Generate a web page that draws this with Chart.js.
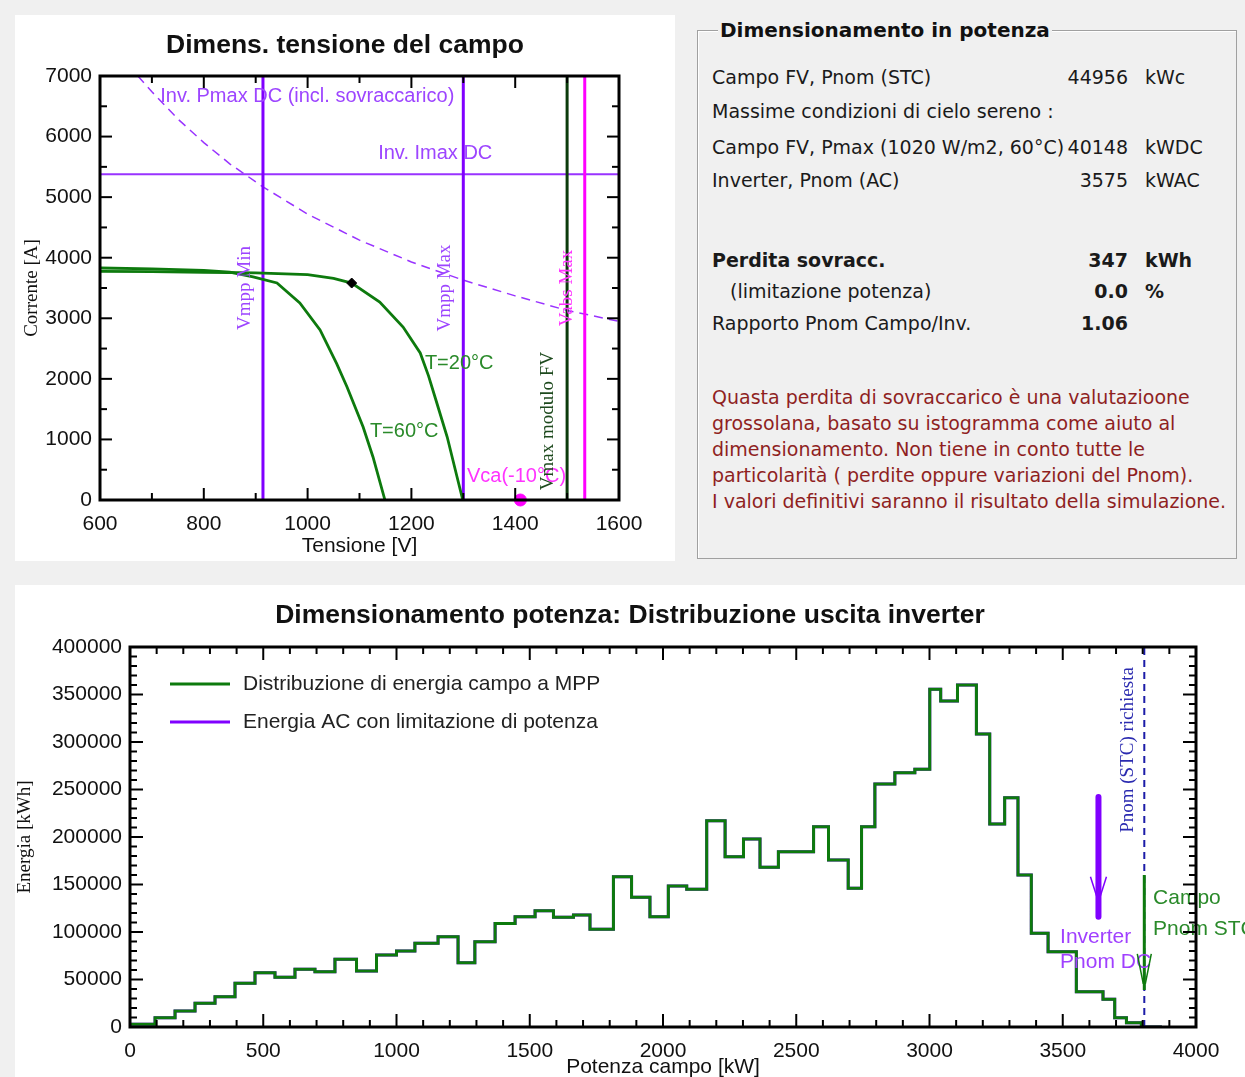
<!DOCTYPE html>
<html>
<head>
<meta charset="utf-8">
<script src="https://cdn.jsdelivr.net/npm/chart.js@4.4.1/dist/chart.umd.min.js"></script>
<style>
html,body{margin:0;padding:0;background:#f0f0f0;width:1245px;height:1077px;overflow:hidden;}
.panel{position:absolute;background:#fff;}
#p1{left:15px;top:15px;width:660px;height:546px;}
#p2{left:15px;top:585px;width:1230px;height:492px;}
#box{position:absolute;left:697px;top:30px;width:540px;height:529px;border:1px solid #a0a0a0;box-shadow:inset 1px 1px 0 #fff;box-sizing:border-box;}
.t{position:absolute;font-family:"DejaVu Sans",sans-serif;font-size:19px;line-height:22px;color:#1a1a1a;white-space:nowrap;}
.b{font-weight:bold;}
.r{text-align:right;}
.red{color:#8f1f1f;}
#boxTitle{position:absolute;left:718px;top:19px;padding:0 2px;background:#f0f0f0;font-family:"DejaVu Sans",sans-serif;font-weight:bold;font-size:20px;line-height:22px;color:#111;white-space:nowrap;}
</style>
</head>
<body>
<div class="panel" id="p1"><canvas id="c1" width="660" height="546"></canvas></div>
<div class="panel" id="p2"><canvas id="c2" width="1230" height="492"></canvas></div>

<div id="box"></div>
<div id="boxTitle">Dimensionamento in potenza</div>
<div class="t" style="left:712px;top:66px;">Campo FV, Pnom (STC)</div>
<div class="t r" style="right:117px;top:66px;">44956</div>
<div class="t" style="left:1145px;top:66px;">kWc</div>
<div class="t" style="left:712px;top:100px;">Massime condizioni di cielo sereno :</div>
<div class="t" style="left:712px;top:136px;">Campo FV, Pmax (1020 W/m2, 60°C)</div>
<div class="t r" style="right:117px;top:136px;">40148</div>
<div class="t" style="left:1145px;top:136px;">kWDC</div>
<div class="t" style="left:712px;top:169px;">Inverter, Pnom (AC)</div>
<div class="t r" style="right:117px;top:169px;">3575</div>
<div class="t" style="left:1145px;top:169px;">kWAC</div>
<div class="t b" style="left:712px;top:249px;">Perdita sovracc.</div>
<div class="t b r" style="right:117px;top:249px;">347</div>
<div class="t b" style="left:1145px;top:249px;">kWh</div>
<div class="t" style="left:730px;top:280px;">(limitazione potenza)</div>
<div class="t b r" style="right:117px;top:280px;">0.0</div>
<div class="t b" style="left:1145px;top:280px;">%</div>
<div class="t" style="left:712px;top:312px;">Rapporto Pnom Campo/Inv.</div>
<div class="t b r" style="right:117px;top:312px;">1.06</div>
<div class="t red" style="left:712px;top:386px;">Quasta perdita di sovraccarico è una valutazioone</div>
<div class="t red" style="left:712px;top:412px;">grossolana, basato su istogramma come aiuto al</div>
<div class="t red" style="left:712px;top:438px;">dimensionamento. Non tiene in conto tutte le</div>
<div class="t red" style="left:712px;top:464px;">particolarità ( perdite oppure variazioni del Pnom).</div>
<div class="t red" style="left:712px;top:490px;">I valori definitivi saranno il risultato della simulazione.</div>

<script>
// ================= Top chart: array voltage sizing (I-V) =================
const iv20_V = [600, 700, 800, 900, 1000, 1050, 1085, 1139, 1184, 1217, 1233, 1249, 1269, 1288, 1299];
const iv20_A = [3775, 3770, 3760, 3750, 3720, 3660, 3582, 3269, 2856, 2427, 2050, 1601, 1040, 380, 0];
const iv60_V = [600, 700, 800, 850, 895, 941, 985, 1024, 1056, 1076, 1107, 1126, 1149];
const iv60_A = [3830, 3815, 3790, 3760, 3682, 3583, 3252, 2807, 2250, 1866, 1205, 710, 0];
const pmaxDc_V = [673, 700, 750, 800, 850, 914, 1000, 1100, 1200, 1300, 1400, 1500, 1600];
const pmaxDc_A = [7000, 6740, 6290, 5900, 5550, 5170, 4720, 4290, 3930, 3630, 3370, 3130, 2950];
const vmppMinV = 914;
const vmppMaxV = 1300;
const vmaxModuleV = 1500;
const vabsMaxV = 1534;
const imaxDcA = 5380;
const vocMinus10V = 1410;
const mppV = 1085, mppA = 3582;

// ================= Bottom chart: power distribution histogram =================
const binEdgesKW = [0, 94, 169, 244, 319, 394, 469, 544, 619, 694, 769, 850, 925, 1000, 1069, 1156, 1231, 1294, 1370, 1445,
  1520, 1589, 1664, 1726, 1814, 1882, 1951, 2020, 2089, 2164, 2233, 2302, 2364, 2433, 2565, 2621, 2695, 2745, 2795, 2870,
  2945, 3001, 3042, 3105, 3176, 3226, 3282, 3332, 3382, 3445, 3551, 3651, 3695, 3739, 3795, 3872];
const fieldEnergyKWh = [3000, 9800, 16800, 24900, 31900, 46000, 57200, 52300, 60700, 58200, 71200, 58900, 75800, 80000, 88100, 95000, 67700, 89800, 109000, 116000,
  122500, 115500, 118000, 102800, 158200, 136500, 116000, 148400, 145000, 217200, 179300, 197900, 168100, 184600, 210900, 175800, 146000, 210900, 255800, 267700,
  271200, 355500, 343200, 360000, 308400, 213700, 241400, 160000, 98600, 79300, 37200, 29200, 9800, 4500, 0];
const acEnergyKWh = [3000, 9800, 16800, 24900, 31900, 46000, 57200, 52300, 60700, 58200, 71200, 58900, 75800, 80000, 88100, 95000, 67700, 89800, 109000, 116000,
  122500, 115500, 118000, 102800, 158200, 136500, 116000, 148400, 145000, 217200, 179300, 197900, 168100, 184600, 210900, 175800, 146000, 210900, 255800, 267700,
  271200, 355500, 343200, 360000, 308400, 213700, 241400, 160000, 98600, 79300, 37200, 29200, 9800, 4500, 0];
const pnomStcKW = 3806;
const invPnomDcKW = 3634;
const invArrowKWh = [242000, 116000];
const fieldArrowKWh = [160000, 39000];
const legendLabels = ['Distribuzione di energia campo a MPP', 'Energia AC con limitazione di potenza'];

Chart.defaults.font.family = '"Liberation Sans", Arial, sans-serif';
Chart.defaults.color = '#111';

const zip = (xs, ys) => xs.map((x, i) => ({x, y: ys[i]}));
const vline = (x, y0, y1) => [{x, y: y0}, {x, y: y1}];
const plainNum = v => String(v);

// frame + inward tick marks drawn from the chart's own scales
const frameTicks = {
  id: 'frameTicks',
  afterDraw(chart, args, o) {
    const {ctx, chartArea: a} = chart;
    const sx = chart.scales.x, sy = chart.scales.y;
    ctx.save();
    ctx.strokeStyle = '#000';
    ctx.lineWidth = 2;
    const line = (x1, y1, x2, y2) => { ctx.beginPath(); ctx.moveTo(x1, y1); ctx.lineTo(x2, y2); ctx.stroke(); };
    const isMajor = (v, m) => Math.abs(v / m - Math.round(v / m)) < 1e-6;
    for (let v = sx.min; v <= sx.max + 1e-6; v += o.xMinor) {
      const p = sx.getPixelForValue(v);
      const L = isMajor(v, o.xMajor) ? o.majorLen : o.minorLen;
      line(p, a.bottom, p, a.bottom - L);
      line(p, a.top, p, a.top + L);
    }
    for (let v = sy.min; v <= sy.max + 1e-6; v += o.yMinor) {
      const p = sy.getPixelForValue(v);
      const L = isMajor(v, o.yMajor) ? o.majorLen : o.minorLen;
      line(a.left, p, a.left + L, p);
      line(a.right, p, a.right - L, p);
    }
    ctx.lineWidth = o.frameWidth;
    ctx.strokeRect(a.left, a.top, a.right - a.left, a.bottom - a.top);
    ctx.restore();
  }
};

// chart title (centred on the canvas) and text labels positioned with the chart's scales
const annots = {
  id: 'annots',
  afterDatasetsDraw(chart, args, o) {
    const {ctx} = chart;
    const sx = chart.scales.x, sy = chart.scales.y;
    ctx.save();
    if (o.title) {
      ctx.fillStyle = '#111';
      ctx.font = 'bold 26.5px "Liberation Sans"';
      ctx.textAlign = 'center';
      ctx.textBaseline = 'middle';
      ctx.fillText(o.title, chart.width / 2, 31);
    }
    (o.items || []).forEach(it => {
      const px = sx.getPixelForValue(it.x), py = sy.getPixelForValue(it.y);
      ctx.fillStyle = it.color;
      ctx.font = it.font;
      ctx.textBaseline = 'middle';
      if (it.rotate) {
        ctx.save();
        ctx.translate(px, py);
        ctx.rotate(-Math.PI / 2);
        ctx.textAlign = 'center';
        ctx.fillText(it.text, 0, 0);
        ctx.restore();
      } else {
        ctx.textAlign = it.align || 'left';
        ctx.fillText(it.text, px, py);
      }
    });
    (o.arrows || []).forEach(ar => {
      const px = sx.getPixelForValue(ar.x), py = sy.getPixelForValue(ar.tip);
      ctx.strokeStyle = ar.color;
      ctx.lineWidth = 1.5;
      ctx.beginPath();
      ctx.moveTo(px - ar.w, py - ar.h); ctx.lineTo(px - 1, py - ar.h2);
      ctx.moveTo(px + ar.w, py - ar.h); ctx.lineTo(px + 1, py - ar.h2);
      ctx.stroke();
    });
    if (o.legend) {
      const a = chart.chartArea;
      o.legend.forEach((lg, i) => {
        const yy = a.top + 37 + i * 38;
        ctx.strokeStyle = lg.color; ctx.lineWidth = 3;
        ctx.beginPath(); ctx.moveTo(a.left + 40, yy); ctx.lineTo(a.left + 100, yy); ctx.stroke();
        ctx.fillStyle = '#222'; ctx.font = '21px "Liberation Sans"';
        ctx.textAlign = 'left'; ctx.textBaseline = 'middle';
        ctx.fillText(lg.text, a.left + 113, yy);
      });
    }
    ctx.restore();
  }
};

const tickFont = {family: '"Liberation Sans"', size: 21};
const lineDs = (data, color, width, extra) => Object.assign({
  data, borderColor: color, borderWidth: width, pointRadius: 0, fill: false, tension: 0
}, extra || {});

// ---------- Chart 1 ----------
new Chart(document.getElementById('c1'), {
  type: 'line',
  data: {
    datasets: [
      {data: [{x: vocMinus10V, y: 0}], showLine: false, pointRadius: 6, pointBackgroundColor: '#ff00ff', pointBorderColor: '#ff00ff', clip: false},
      {data: [{x: mppV, y: mppA}], showLine: false, pointRadius: 5, pointStyle: 'rectRot', pointBackgroundColor: '#000', pointBorderColor: '#000'},
      lineDs(zip(iv20_V, iv20_A), '#0d7a0d', 2.8),
      lineDs(zip(iv60_V, iv60_A), '#0d7a0d', 2.8),
      lineDs(vline(vmppMinV, 0, 7000), '#8000ff', 3),
      lineDs(vline(vmppMaxV, 0, 7000), '#8000ff', 3),
      lineDs(vline(vmaxModuleV, 0, 7000), '#0b3b0b', 3),
      lineDs(vline(vabsMaxV, 0, 7000), '#ff00ff', 3),
      lineDs([{x: 600, y: imaxDcA}, {x: 1600, y: imaxDcA}], '#9933ff', 2),
      lineDs(zip(pmaxDc_V, pmaxDc_A), '#9933ff', 1.5, {borderDash: [9, 6]})
    ]
  },
  options: {
    responsive: false, animation: false,
    layout: {padding: {left: 0, right: 56, top: 61, bottom: 0}},
    plugins: {
      legend: {display: false}, tooltip: {enabled: false}, title: {display: false},
      frameTicks: {xMajor: 200, xMinor: 100, yMajor: 1000, yMinor: 500, majorLen: 12, minorLen: 7, frameWidth: 3},
      annots: {
        title: 'Dimens. tensione del campo',
        items: [
          {text: 'Inv. Pmax DC (incl. sovraccarico)', x: 716, y: 6670, color: '#9d45ff', font: '20px "Liberation Sans"'},
          {text: 'Inv. Imax DC', x: 1136, y: 5729, color: '#9d45ff', font: '20px "Liberation Sans"'},
          {text: 'T=20°C', x: 1226, y: 2262, color: '#2a8a2a', font: '20px "Liberation Sans"'},
          {text: 'T=60°C', x: 1120, y: 1123, color: '#2a8a2a', font: '20px "Liberation Sans"'},
          {text: 'Vca(-10°C)', x: 1307, y: 380, color: '#ff33ff', font: '20px "Liberation Sans"'},
          {text: 'Vmpp Min', x: 879, y: 3500, color: '#9d45ff', font: '19px "Liberation Serif"', rotate: true},
          {text: 'Vmpp Max', x: 1265, y: 3500, color: '#9d45ff', font: '19px "Liberation Serif"', rotate: true},
          {text: 'Vabs Max', x: 1499, y: 3500, color: '#ff33ff', font: '19px "Liberation Serif"', rotate: true},
          {text: 'Vmax modulo FV', x: 1463, y: 1304, color: '#1e4a1e', font: '19px "Liberation Serif"', rotate: true}
        ]
      }
    },
    scales: {
      x: {type: 'linear', min: 600, max: 1600,
        ticks: {stepSize: 200, padding: 12, font: tickFont, color: '#111', maxRotation: 0, callback: plainNum},
        grid: {display: false, drawTicks: false}, border: {display: false},
        title: {display: true, text: 'Tensione [V]', color: '#111', font: {family: '"Liberation Sans"', size: 21}, padding: {top: 0, bottom: 2.4}},
        afterFit(s) { s.height = 61; }},
      y: {type: 'linear', min: 0, max: 7000,
        ticks: {stepSize: 1000, padding: 8, font: tickFont, color: '#111', callback: plainNum},
        grid: {display: false, drawTicks: false}, border: {display: false},
        title: {display: true, text: 'Corrente [A]', color: '#111', font: {family: '"Liberation Serif"', size: 19}, padding: {top: 5.6, bottom: 0}},
        afterFit(s) { s.width = 85; }}
    }
  },
  plugins: [frameTicks, annots]
});

// ---------- Chart 2 ----------
const histPoints = vals => {
  const pts = vals.map((v, i) => ({x: binEdgesKW[i], y: v}));
  pts.push({x: binEdgesKW[vals.length], y: vals[vals.length - 1]});
  return pts;
};

new Chart(document.getElementById('c2'), {
  type: 'line',
  data: {
    datasets: [
      lineDs(vline(invPnomDcKW, invArrowKWh[0], invArrowKWh[1]), '#8000ff', 6, {borderCapStyle: 'round'}),
      lineDs(vline(pnomStcKW, fieldArrowKWh[0], fieldArrowKWh[1]), '#0d7a0d', 3),
      lineDs(vline(pnomStcKW, 0, 400000), '#1c1ca8', 2, {borderDash: [7, 5]}),
      lineDs(histPoints(fieldEnergyKWh), '#0d7a0d', 3, {stepped: true, borderJoinStyle: 'miter'}),
      lineDs(histPoints(acEnergyKWh), '#8000ff', 3, {stepped: true, borderJoinStyle: 'miter'})
    ]
  },
  options: {
    responsive: false, animation: false,
    layout: {padding: {left: 0, right: 49, top: 62, bottom: 0}},
    plugins: {
      legend: {display: false}, tooltip: {enabled: false}, title: {display: false},
      frameTicks: {xMajor: 500, xMinor: 100, yMajor: 50000, yMinor: 10000, majorLen: 13, minorLen: 7, frameWidth: 3},
      annots: {
        title: 'Dimensionamento potenza: Distribuzione uscita inverter',
        items: [
          {text: 'Pnom (STC) richiesta', x: 3745, y: 291600, color: '#2b2bb0', font: '19px "Liberation Serif"', rotate: true},
          {text: 'Inverter', x: 3490, y: 94700, color: '#a040ff', font: '21px "Liberation Sans"'},
          {text: 'Pnom DC', x: 3490, y: 68400, color: '#a040ff', font: '21px "Liberation Sans"'},
          {text: 'Campo', x: 3839, y: 135800, color: '#2a8a2a', font: '21px "Liberation Sans"'},
          {text: 'Pnom STC', x: 3839, y: 103200, color: '#2a8a2a', font: '21px "Liberation Sans"'}
        ],
        arrows: [
          {x: invPnomDcKW, tip: invArrowKWh[1], color: '#8000ff', w: 8, h: 40, h2: 18},
          {x: pnomStcKW, tip: fieldArrowKWh[1], color: '#0d7a0d', w: 7, h: 36, h2: 6}
        ],
        legend: [
          {text: legendLabels[0], color: '#0d7a0d'},
          {text: legendLabels[1], color: '#8000ff'}
        ]
      }
    },
    scales: {
      x: {type: 'linear', min: 0, max: 4000,
        ticks: {stepSize: 500, padding: 12, font: tickFont, color: '#111', maxRotation: 0, callback: plainNum},
        grid: {display: false, drawTicks: false}, border: {display: false},
        title: {display: true, text: 'Potenza campo [kW]', color: '#111', font: {family: '"Liberation Sans"', size: 21}, padding: {top: 0, bottom: -2.6}},
        afterFit(s) { s.height = 50; }},
      y: {type: 'linear', min: 0, max: 400000,
        ticks: {stepSize: 50000, padding: 8, font: tickFont, color: '#111', callback: plainNum},
        grid: {display: false, drawTicks: false}, border: {display: false},
        title: {display: true, text: 'Energia [kWh]', color: '#111', font: {family: '"Liberation Serif"', size: 19}, padding: {top: -1, bottom: 0}},
        afterFit(s) { s.width = 115; }}
    }
  },
  plugins: [frameTicks, annots]
});
</script>
</body>
</html>
